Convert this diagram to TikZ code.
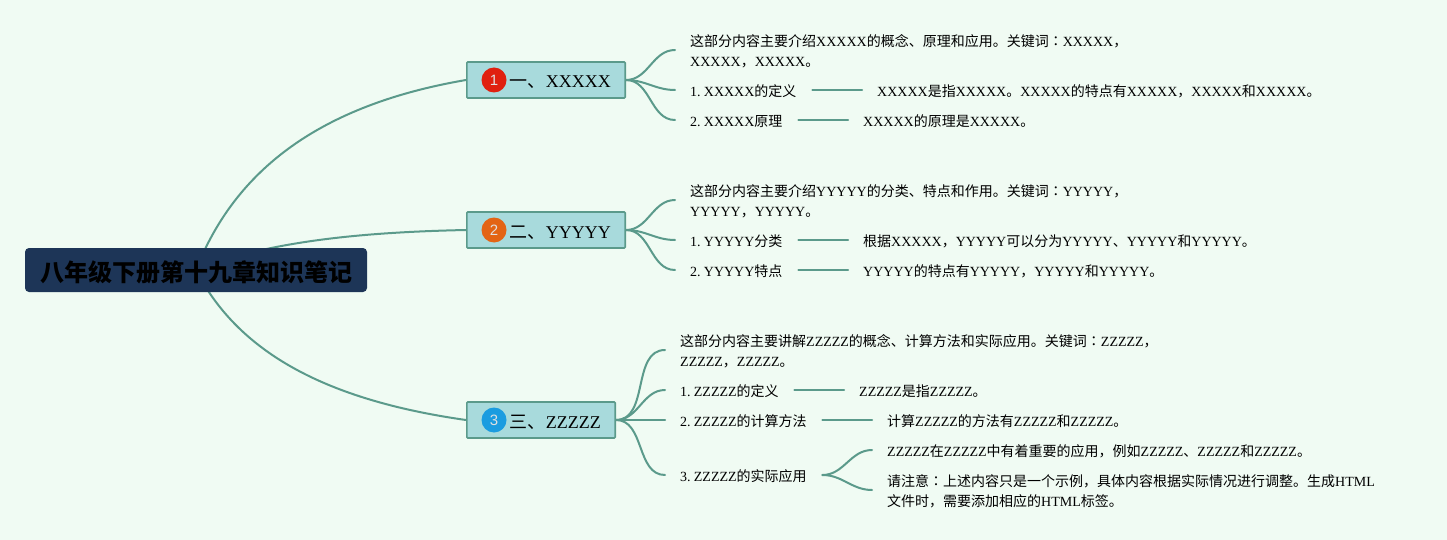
\documentclass[tikz,border=0pt]{standalone}
\usepackage{fontspec}
\setmainfont{Liberation Serif}
\setsansfont{Liberation Sans}
\newfontfamily\cjk{Noto Sans CJK SC}
\newfontfamily\cjktc{Noto Sans CJK TC}
\newcommand{\zh}[1]{{\cjk #1}}
\newcommand{\zhc}{{\cjktc ：}}
\newcommand{\gap}{\hspace*{3.2pt}}
\usetikzlibrary{backgrounds,positioning}
\definecolor{pagebg}{HTML}{F0FBF3}
\definecolor{linkc}{HTML}{5B9A8B}
\definecolor{boxfill}{HTML}{A8DADC}
\definecolor{rootfill}{HTML}{1D3557}
\definecolor{iconred}{HTML}{E0200F}
\definecolor{iconorange}{HTML}{E36414}
\definecolor{iconblue}{HTML}{1B9CE0}
\tikzset{
  link/.style={draw=linkc,line width=2pt,line cap=round},
  leaf/.style={inner xsep=15pt,inner ysep=0pt,anchor=west,align=left,text=black,
    font=\fontsize{14}{20}\selectfont},
  topic/.style={draw=linkc,line width=1.6pt,fill=boxfill,rounded corners=1pt,anchor=west,
    inner xsep=0pt,minimum height=36pt,align=left,text=black,
    font=\fontsize{18}{20}\selectfont},
  rootbox/.style={fill=rootfill,rounded corners=4pt,minimum width=342pt,minimum height=44pt,
    inner sep=0pt,text=black,font=\fontsize{24}{28}\selectfont},
  badge/.style={circle,inner sep=0pt,minimum size=25pt,text=white!88!black,
    font=\sffamily\fontsize{15}{15}\selectfont},
  branch/.style={link,out=0,in=180,looseness=1}
}
\begin{document}
\begin{tikzpicture}[x=1pt,y=-1pt]
\useasboundingbox (0,0) rectangle (1447,540);

\node[rootbox] (root) at (196,270) {\raisebox{-11pt}[0pt][0pt]{\zh{\bfseries 八年级下册第十九章知识笔记}}};

% topic 1
\node[topic,text width=158.4pt] (t1) at (466,80) {\hspace*{43pt}\raisebox{-8pt}[0pt][0pt]{\zh{一、}XXXXX}};
\node[badge,fill=iconred] (i1) at (494,80) {1};
\node[leaf,text width=480pt] (a0) at (675,51) {\zh{这部分内容主要介绍}XXXXX\zh{的概念、原理和应用。关键词}\zhc XXXXX\zh{，}\\XXXXX\zh{，}XXXXX\zh{。}};
\node[leaf,text width=107pt] (a1) at (675,91) {1.\gap XXXXX\zh{的定义}};
\node[leaf,text width=93pt] (a2) at (675,121) {2.\gap XXXXX\zh{原理}};
\node[leaf,text width=440pt] (a1x) at (862,91) {XXXXX\zh{是指}XXXXX\zh{。}XXXXX\zh{的特点有}XXXXX\zh{，}XXXXX\zh{和}XXXXX\zh{。}};
\node[leaf,text width=170pt] (a2x) at (848,121) {XXXXX\zh{的原理是}XXXXX\zh{。}};

% topic 2
\node[topic,text width=158.4pt] (t2) at (466,230) {\hspace*{43pt}\raisebox{-8pt}[0pt][0pt]{\zh{二、}YYYYY}};
\node[badge,fill=iconorange] (i2) at (494,230) {2};
\node[leaf,text width=480pt] (b0) at (675,201) {\zh{这部分内容主要介绍}YYYYY\zh{的分类、特点和作用。关键词}\zhc YYYYY\zh{，}\\YYYYY\zh{，}YYYYY\zh{。}};
\node[leaf,text width=93pt] (b1) at (675,241) {1.\gap YYYYY\zh{分类}};
\node[leaf,text width=93pt] (b2) at (675,271) {2.\gap YYYYY\zh{特点}};
\node[leaf,text width=400pt] (b1x) at (848,241) {\zh{根据}XXXXX\zh{，}YYYYY\zh{可以分为}YYYYY\zh{、}YYYYY\zh{和}YYYYY\zh{。}};
\node[leaf,text width=300pt] (b2x) at (848,271) {YYYYY\zh{的特点有}YYYYY\zh{，}YYYYY\zh{和}YYYYY\zh{。}};

% topic 3
\node[topic,text width=148.4pt] (t3) at (466,420) {\hspace*{43pt}\raisebox{-8pt}[0pt][0pt]{\zh{三、}ZZZZZ}};
\node[badge,fill=iconblue] (i3) at (494,420) {3};
\node[leaf,text width=490pt] (c0) at (665,351) {\zh{这部分内容主要讲解}ZZZZZ\zh{的概念、计算方法和实际应用。关键词}\zhc ZZZZZ\zh{，}\\ZZZZZ\zh{，}ZZZZZ\zh{。}};
\node[leaf,text width=99pt] (c1) at (665,391) {1.\gap ZZZZZ\zh{的定义}};
\node[leaf,text width=127pt] (c2) at (665,421) {2.\gap ZZZZZ\zh{的计算方法}};
\node[leaf,text width=127pt] (c3) at (665,476) {3.\gap ZZZZZ\zh{的实际应用}};
\node[leaf,text width=130pt] (c1x) at (844,391) {ZZZZZ\zh{是指}ZZZZZ\zh{。}};
\node[leaf,text width=260pt] (c2x) at (872,421) {\zh{计算}ZZZZZ\zh{的方法有}ZZZZZ\zh{和}ZZZZZ\zh{。}};
\node[leaf,text width=440pt] (c3a) at (872,451) {ZZZZZ\zh{在}ZZZZZ\zh{中有着重要的应用，例如}ZZZZZ\zh{、}ZZZZZ\zh{和}ZZZZZ\zh{。}};
\node[leaf,text width=490pt] (c3b) at (872,491) {\zh{请注意}\zhc\zh{上述内容只是一个示例，具体内容根据实际情况进行调整。生成}HTML\\\zh{文件时，需要添加相应的}HTML\zh{标签。}};

\begin{scope}[on background layer]
\fill[pagebg] (0,0) rectangle (1447,540);
\draw[link] (root.center) .. controls (235,170) and (320,105) .. (t1.west);
\draw[link] (root.center) .. controls (270,240) and (370,232) .. (t2.west);
\draw[link] (root.center) .. controls (238,352) and (325,400) .. (t3.west);
\foreach \k in {a0,a1,a2} \draw[link] (t1.east) to[branch] ([yshift=1pt]\k.west);
\foreach \k in {b0,b1,b2} \draw[link] (t2.east) to[branch] ([yshift=1pt]\k.west);
\foreach \k in {c0,c1,c2,c3} \draw[link] (t3.east) to[branch] ([yshift=1pt]\k.west);
\draw[link] ([yshift=1pt]a1.east) -- ([yshift=1pt]a1x.west);
\draw[link] ([yshift=1pt]a2.east) -- ([yshift=1pt]a2x.west);
\draw[link] ([yshift=1pt]b1.east) -- ([yshift=1pt]b1x.west);
\draw[link] ([yshift=1pt]b2.east) -- ([yshift=1pt]b2x.west);
\draw[link] ([yshift=1pt]c1.east) -- ([yshift=1pt]c1x.west);
\draw[link] ([yshift=1pt]c2.east) -- ([yshift=1pt]c2x.west);
\draw[link] ([yshift=1pt]c3.east) to[branch] ([yshift=1pt]c3a.west);
\draw[link] ([yshift=1pt]c3.east) to[branch] ([yshift=1pt]c3b.west);
\end{scope}
\end{tikzpicture}
\end{document}
